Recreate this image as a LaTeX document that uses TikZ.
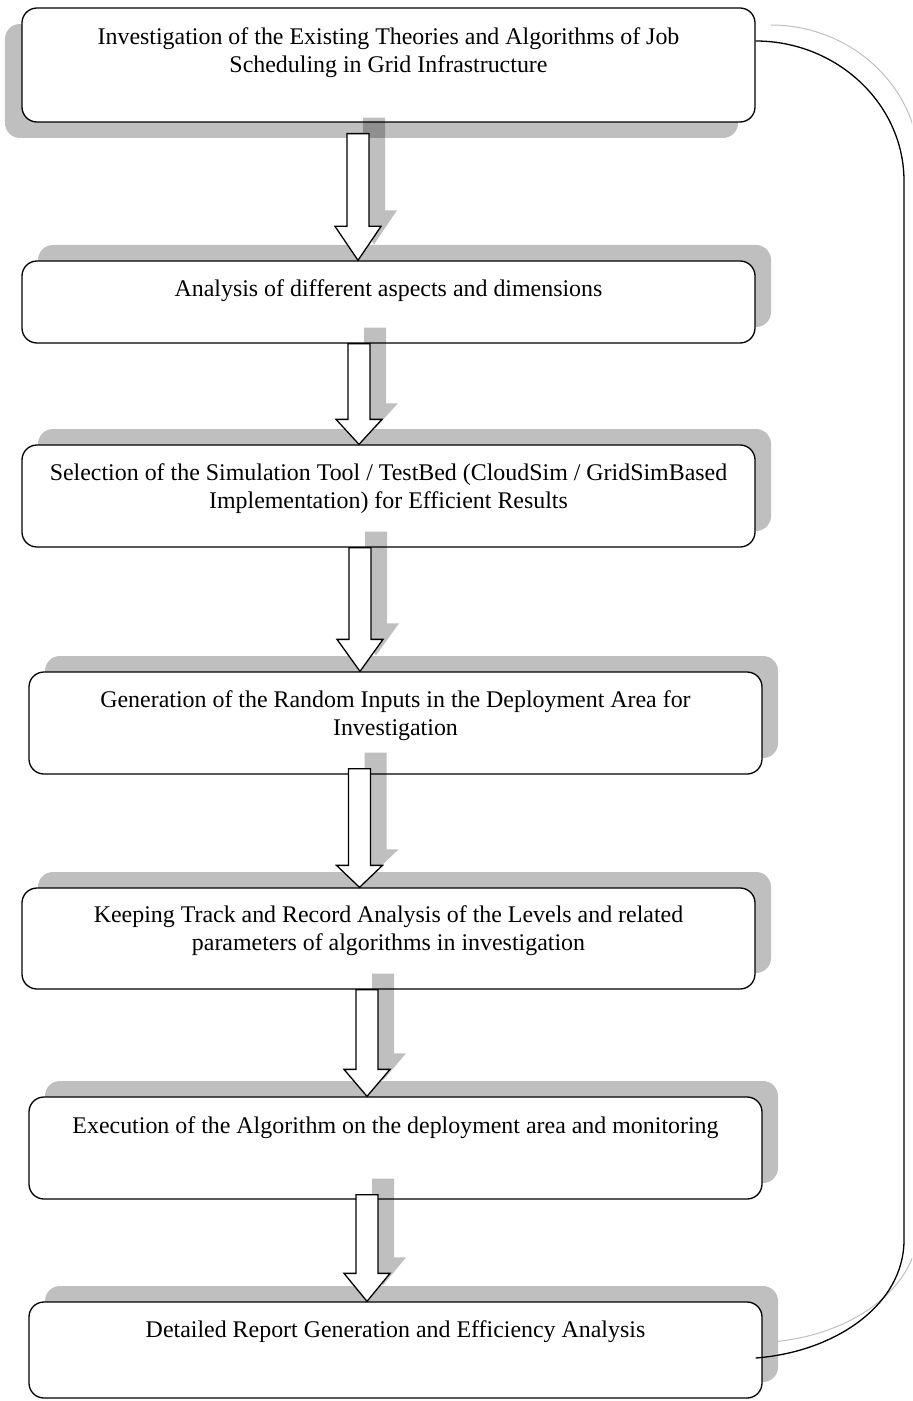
\documentclass[tikz,border=0pt]{standalone}
\usepackage{fontspec}
\setmainfont{Liberation Serif}
\usetikzlibrary{shadows,calc}
\newcommand\blkarrow[5]{%
  \path let \p1=(#2.south), \p2=(#4.north) in
    ({#1bp},{\y1-(#3bp)}) coordinate (aT)
    ({#1bp},{\y2}) coordinate (aP)
    ({#1bp+16bp},{\y1-(#3bp)+16bp}) coordinate (aTs)
    ({#1bp+16bp},{\y2+16bp}) coordinate (aPs);
  \fill[ashadow] ([xshift=-11bp]aTs) -- ([xshift=11bp]aTs) -- ([shift={(11bp,#5bp)}]aPs) -- ([shift={(23bp,#5bp)}]aPs) -- (aPs) -- ([shift={(-23bp,#5bp)}]aPs) -- ([shift={(-11bp,#5bp)}]aPs) -- cycle;
  \draw[abox] ([xshift=-11bp]aT) -- ([xshift=11bp]aT) -- ([shift={(11bp,#5bp)}]aP) -- ([shift={(23bp,#5bp)}]aP) -- (aP) -- ([shift={(-23bp,#5bp)}]aP) -- ([shift={(-11bp,#5bp)}]aP) -- cycle;
}
\begin{document}
\begin{tikzpicture}[x=1bp,y=-1bp,
  box/.style={draw=black, line width=1.3bp, fill=white, rounded corners=15bp, minimum width=733bp, inner sep=0pt},
  shadowUR/.style={general shadow={fill=black!25, shadow xshift=16bp, shadow yshift=16bp}},
  shadowDL/.style={general shadow={fill=black!25, shadow xshift=-17bp, shadow yshift=-16bp}},
  txt/.style={align=center, inner sep=0pt, font=\fontsize{24}{28}\selectfont},
  ashadow/.style={fill=black, fill opacity=0.25},
  abox/.style={draw=black, line width=1.3bp, fill=white, line join=miter},
  link/.style={draw=black, line width=1.3bp},
  linkshadow/.style={draw=black!25, line width=1bp}
]
\useasboundingbox (0,0) rectangle (912,1401);
\clip (0,0) rectangle (912,1401);

% boxes
\node[box, shadowDL, minimum height=114bp] (b1) at (388.5,65) {};
\node[box, shadowUR, minimum height=82bp] (b2) at (388.5,302) {};
\node[box, shadowUR, minimum height=102bp] (b3) at (388.5,496) {};
\node[box, shadowUR, minimum height=102bp] (b4) at (395.5,723) {};
\node[box, shadowUR, minimum height=101bp] (b5) at (388.5,938.5) {};
\node[box, shadowUR, minimum height=102bp] (b6) at (395.5,1148) {};
\node[box, shadowUR, minimum height=96bp] (b7) at (395.5,1350) {};

% texts
\node[txt] (t1) at (388.5,52.5) {Investigation of the Existing Theories and Algorithms of Job\\Scheduling in Grid Infrastructure};
\node[txt] (t2) at (388.5,291) {Analysis of different aspects and dimensions};
\node[txt] (t3) at (388.5,489) {Selection of the Simulation Tool / TestBed (CloudSim / GridSimBased\\Implementation) for Efficient Results};
\node[txt] (t4) at (395.5,716) {Generation of the Random Inputs in the Deployment Area for\\Investigation};
\node[txt] (t5) at (388.5,931) {Keeping Track and Record Analysis of the Levels and related\\parameters of algorithms in investigation};
\node[txt] (t6) at (395.5,1128) {Execution of the Algorithm on the deployment area and monitoring};
\node[txt] (t7) at (395.5,1332) {Detailed Report Generation and Efficiency Analysis};

% block arrows
\blkarrow{358}{b1}{11}{b2}{34}
\blkarrow{359}{b2}{0}{b3}{25}
\blkarrow{360}{b3}{0}{b4}{32}
\blkarrow{359.5}{b4}{-6}{b5}{22}
\blkarrow{367}{b5}{0}{b6}{27}
\blkarrow{367}{b6}{-5}{b7}{28}

% feedback connector
\coordinate (c1) at ([yshift=24bp]b1.east);
\coordinate (c2) at ([shift={(-7bp,-8bp)}]b7.east);
\draw[linkshadow] ([shift={(15bp,16bp)}]c1) .. controls (852,25) and (919,88) .. (919,165) -- (919,1224) .. controls (919,1289) and (850,1336) .. ([shift={(15bp,16bp)}]c2);
\draw[link] (c1) .. controls (837,41) and (904,104) .. (904,181) -- (904,1240) .. controls (904,1305) and (835,1352) .. (c2);
\end{tikzpicture}
\end{document}
